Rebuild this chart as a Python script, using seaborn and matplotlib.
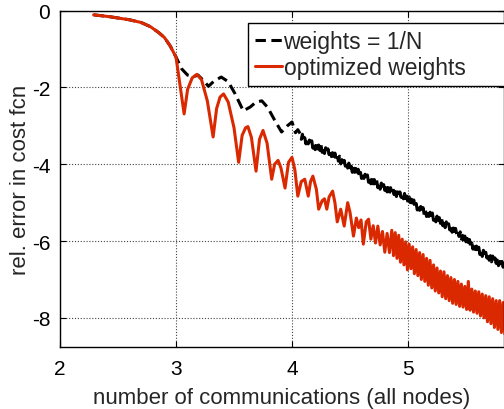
import matplotlib
matplotlib.use("Agg")
import matplotlib.pyplot as plt
import seaborn as sns
import pandas as pd

# ---- data ----
x_equal = [2.29, 2.43, 2.60, 2.70, 2.78, 2.85, 2.90, 2.95, 3.00, 3.05, 3.10, 3.15, 3.19, 3.23,
           3.28, 3.33, 3.39, 3.45, 3.51, 3.58, 3.64, 3.69, 3.74, 3.79, 3.85, 3.91, 3.96, 4.00,
           4.03, 4.05,
           4.07, 4.08, 4.09, 4.10, 4.11, 4.12, 4.13, 4.14, 4.15, 4.16, 4.17, 4.18, 4.19, 4.20,
           4.21, 4.22, 4.23, 4.24, 4.25, 4.26, 4.27, 4.28, 4.29, 4.30, 4.31, 4.32, 4.33, 4.34,
           4.35, 4.36, 4.37, 4.38, 4.39, 4.40, 4.41, 4.42, 4.43, 4.44, 4.45, 4.46, 4.47, 4.48,
           4.49, 4.50, 4.51, 4.52, 4.53, 4.54, 4.55, 4.56, 4.57, 4.58, 4.59, 4.60, 4.61, 4.62,
           4.63, 4.64, 4.65, 4.66, 4.67, 4.68, 4.69, 4.70, 4.71, 4.72, 4.73, 4.74, 4.75, 4.76,
           4.77, 4.78, 4.79, 4.80, 4.81, 4.82, 4.83, 4.84, 4.85, 4.86, 4.87, 4.88, 4.89, 4.90,
           4.91, 4.92, 4.93, 4.94, 4.95, 4.96, 4.97, 4.98, 4.99, 5.00, 5.01, 5.02, 5.03, 5.04,
           5.05, 5.06, 5.07, 5.08, 5.09, 5.10, 5.11, 5.12, 5.13, 5.14, 5.15, 5.16, 5.17, 5.18,
           5.19, 5.20, 5.21, 5.22, 5.23, 5.24, 5.25, 5.26, 5.27, 5.28, 5.29, 5.30, 5.31, 5.32,
           5.33, 5.34, 5.35, 5.36, 5.37, 5.38, 5.39, 5.40, 5.41, 5.42, 5.43, 5.44, 5.45, 5.46,
           5.47, 5.48, 5.49, 5.50, 5.51, 5.52, 5.53, 5.54, 5.55, 5.56, 5.57, 5.58, 5.59, 5.60,
           5.61, 5.62, 5.63, 5.64, 5.65, 5.66, 5.67, 5.68, 5.69, 5.70, 5.71, 5.72, 5.73, 5.74,
           5.75, 5.76, 5.77, 5.78, 5.79, 5.80, 5.81, 5.82, 5.83, 5.84]
y_equal = [-0.11, -0.16, -0.24, -0.31, -0.42, -0.57, -0.70, -0.92, -1.21, -1.52, -1.68, -1.72,
           -1.68, -1.80, -1.97, -1.83, -1.73, -1.85, -2.17, -2.61, -2.51, -2.38, -2.35, -2.52,
           -2.85, -3.16, -3.00, -2.90, -3.18, -3.10,
           -3.20, -3.35, -3.22, -3.41, -3.31, -3.47, -3.32, -3.47, -3.37, -3.52, -3.39, -3.58,
           -3.46, -3.62, -3.46, -3.60, -3.50, -3.64, -3.50, -3.69, -3.57, -3.72, -3.57, -3.71,
           -3.60, -3.75, -3.61, -3.80, -3.70, -3.86, -3.71, -3.87, -3.77, -3.92, -3.79, -3.99,
           -3.88, -4.04, -3.90, -4.05, -3.95, -4.10, -3.97, -4.16, -4.05, -4.21, -4.06, -4.21,
           -4.11, -4.26, -4.13, -4.32, -4.21, -4.37, -4.22, -4.37, -4.26, -4.41, -4.28, -4.47,
           -4.35, -4.51, -4.36, -4.51, -4.40, -4.55, -4.42, -4.61, -4.49, -4.65, -4.49, -4.64,
           -4.53, -4.68, -4.54, -4.72, -4.61, -4.76, -4.61, -4.75, -4.64, -4.79, -4.65, -4.84,
           -4.72, -4.87, -4.72, -4.86, -4.76, -4.90, -4.76, -4.95, -4.83, -4.99, -4.85, -5.00,
           -4.91, -5.06, -4.93, -5.13, -5.02, -5.19, -5.04, -5.20, -5.10, -5.26, -5.13, -5.32,
           -5.20, -5.36, -5.21, -5.36, -5.25, -5.40, -5.27, -5.46, -5.34, -5.50, -5.35, -5.50,
           -5.39, -5.54, -5.41, -5.60, -5.49, -5.65, -5.50, -5.65, -5.55, -5.71, -5.58, -5.77,
           -5.66, -5.82, -5.67, -5.82, -5.73, -5.88, -5.76, -5.95, -5.85, -6.01, -5.87, -6.02,
           -5.93, -6.08, -5.96, -6.15, -6.05, -6.21, -6.07, -6.22, -6.13, -6.28, -6.16, -6.35,
           -6.24, -6.40, -6.24, -6.39, -6.29, -6.44, -6.31, -6.50, -6.38, -6.54, -6.39, -6.54,
           -6.44, -6.58, -6.45, -6.64, -6.53, -6.69, -6.53, -6.68, -6.58, -6.73]

x_opt = [2.29, 2.43, 2.60, 2.70, 2.78, 2.85, 2.90, 2.95, 3.00, 3.035, 3.07, 3.10, 3.14, 3.18,
         3.22, 3.27, 3.32, 3.35, 3.38, 3.41, 3.45, 3.50, 3.54, 3.57, 3.60, 3.62, 3.65, 3.69,
         3.72, 3.75, 3.785, 3.825, 3.85, 3.88, 3.905, 3.94, 3.97, 4.00, 4.025, 4.05, 4.08,
         4.11, 4.14, 4.16, 4.18, 4.21, 4.23, 4.26, 4.28, 4.30, 4.32, 4.35, 4.37, 4.39, 4.42,
         4.45, 4.48, 4.50, 4.53, 4.555, 4.575, 4.595, 4.615, 4.64, 4.66, 4.68, 4.70, 4.72,
         4.74, 4.76, 4.78, 4.80, 4.82, 4.84,
         4.86, 4.875, 4.89, 4.905, 4.92, 4.935, 4.95, 4.965, 4.98, 4.995, 5.01, 5.025, 5.04,
         5.055, 5.07, 5.085, 5.10, 5.115, 5.13, 5.145, 5.16, 5.175, 5.19, 5.205, 5.22, 5.235,
         5.25, 5.265, 5.28, 5.295, 5.31, 5.325, 5.34, 5.355, 5.37, 5.385, 5.40, 5.415, 5.43,
         5.445, 5.46, 5.475, 5.49, 5.505, 5.52, 5.535, 5.55, 5.565, 5.58, 5.595, 5.61, 5.625,
         5.64, 5.655, 5.67, 5.685, 5.70, 5.715, 5.73, 5.745, 5.76, 5.775, 5.79, 5.805, 5.82,
         5.835]
y_opt = [-0.11, -0.16, -0.24, -0.31, -0.42, -0.57, -0.70, -0.92, -1.21, -1.95, -2.69, -2.05,
         -1.75, -1.66, -1.80, -2.35, -3.29, -2.55, -2.25, -2.17, -2.38, -3.05, -3.95, -3.25,
         -3.05, -3.02, -3.30, -4.18, -3.35, -3.12, -3.45, -4.39, -4.00, -3.90, -4.10, -4.62,
         -3.95, -3.82, -4.15, -4.83, -4.45, -4.39, -4.83, -4.45, -4.31, -4.65, -5.17, -4.95,
         -4.90, -5.17, -4.85, -4.70, -5.00, -5.50, -5.17, -5.61, -5.00, -5.25, -5.87, -5.40,
         -5.65, -5.45, -6.08, -5.50, -5.43, -5.95, -5.60, -6.05, -5.61, -6.10, -5.75, -6.29,
         -5.80, -6.30,
         -5.72, -6.38, -5.78, -6.45, -5.85, -6.55, -5.95, -6.62, -6.02, -6.75, -6.08, -6.72,
         -6.15, -6.85, -6.22, -6.90, -6.30, -7.00, -6.35, -7.05, -6.45, -7.15, -6.50, -7.22,
         -6.62, -7.30, -6.70, -7.35, -6.78, -7.45, -6.80, -7.50, -6.90, -7.55, -6.95, -7.62,
         -7.00, -7.65, -7.05, -7.70, -7.12, -7.72, -7.18, -7.78, -7.05, -7.80, -7.25, -7.85,
         -7.30, -7.88, -7.32, -7.95, -7.38, -8.00, -7.42, -8.10, -7.45, -8.15, -7.50, -8.25,
         -7.55, -8.30, -7.55, -8.38, -7.60, -8.42]

series_labels = ["weights = 1/N", "optimized weights"]
x_ticks = [2, 3, 4, 5]
y_ticks = [0, -2, -4, -6, -8]
x_label = "number of communications (all nodes)"
y_label = "rel. error in cost fcn"

# ---- style ----
sns.set_style("white")
plt.rcParams['font.family'] = ['Liberation Sans', 'DejaVu Sans']
plt.rcParams['axes.unicode_minus'] = False

RED = '#DA2800'

fig = plt.figure(figsize=(5.04, 4.10), dpi=100)
ax = fig.add_axes([60 / 504, 1 - 347.7 / 410, 444 / 504, (347.7 - 11.6) / 410])

df_eq = pd.DataFrame({"x": x_equal, "y": y_equal})
df_op = pd.DataFrame({"x": x_opt, "y": y_opt})

sns.lineplot(data=df_eq, x="x", y="y", ax=ax, sort=False, estimator=None,
             color='black', linewidth=2.2, linestyle=(0, (3.4, 1.8)),
             label=series_labels[0])
sns.lineplot(data=df_op, x="x", y="y", ax=ax, sort=False, estimator=None,
             color=RED, linewidth=2.2, label=series_labels[1])

ax.set_xlim(2, 2 + 444 / 116)
ax.set_ylim(-8.75, 0)
ax.set_xticks(x_ticks)
ax.set_xticklabels([str(v) for v in x_ticks])
ax.set_yticks(y_ticks)
ax.set_yticklabels([str(v) for v in y_ticks])
ax.tick_params(direction='in', length=4, width=0.8, labelsize=15, pad=7,
               top=True, right=True, bottom=True, left=True, colors='black')
ax.tick_params(axis='x', pad=9)

for s in ax.spines.values():
    s.set_color('black')
    s.set_linewidth(1.0)

ax.grid(True, color='#444444', linestyle=(0, (1, 1.6)), linewidth=0.8)
ax.set_axisbelow(True)

ax.set_xlabel(x_label, fontsize=16, labelpad=6)
ax.set_ylabel(y_label, fontsize=16, labelpad=0.5)

leg = ax.legend(loc='upper left', bbox_to_anchor=(248 / 504, 1 - 24 / 410, 0.6, -0.0),
                bbox_transform=fig.transFigure, mode='expand',
                fontsize=16.5, frameon=True, fancybox=False, framealpha=1,
                edgecolor='black', borderpad=0.3, labelspacing=0.15,
                handlelength=1.2, handletextpad=0.05, borderaxespad=0)
leg.get_frame().set_linewidth(1.0)

fig.savefig("out.png", dpi=100)
